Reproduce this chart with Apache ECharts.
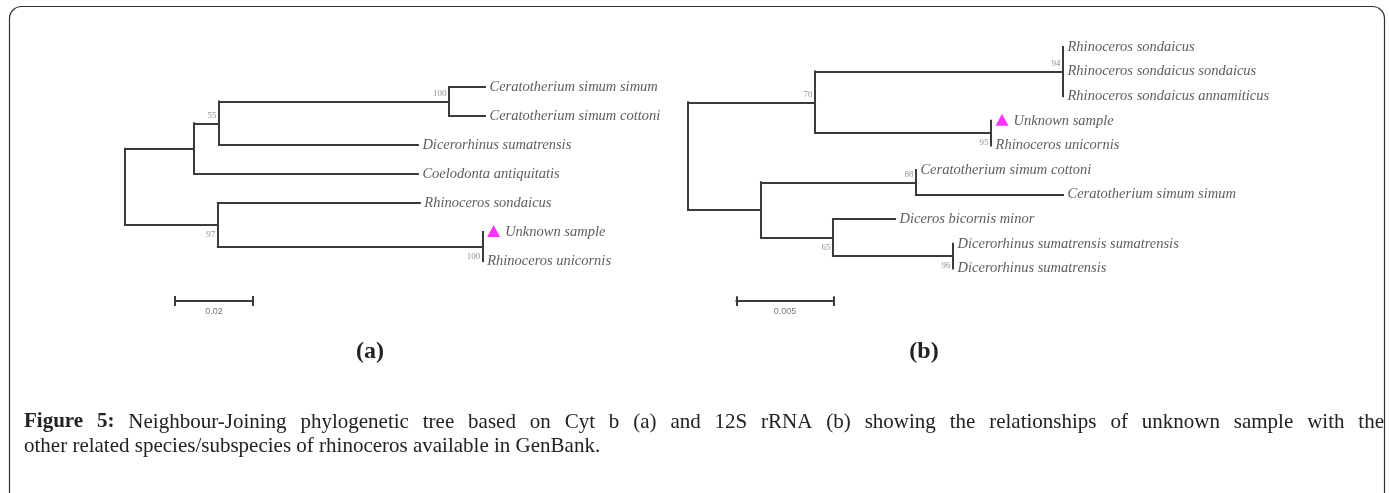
<!DOCTYPE html>
<html>
<head>
<meta charset="utf-8">
<script src="https://cdn.jsdelivr.net/npm/echarts@6/dist/echarts.min.js"></script>
<style>
html, body { margin: 0; padding: 0; background: #fff; }
#chart { width: 1389px; height: 493px; }
</style>
</head>
<body>
<div id="chart"></div>
<script>
// tree (a) Cyt b : node ids, parents, branch lengths, bootstrap, tip names
var aNodes   = ['root', 'n1', 'n55', 'n100', 'CSS', 'CSC', 'DS', 'CA', 'n97', 'RS', 'n100b', 'US', 'RU'];
var aParents = [null, 'root', 'n1', 'n55', 'n100', 'n100', 'n55', 'n1', 'root', 'n97', 'n97', 'n100b', 'n100b'];
var aLengths = [0, 0.0177, 0.0064, 0.0590, 0.0092, 0.0092, 0.0510, 0.0574, 0.0238, 0.0518, 0.0679, 0, 0];
var aSupport = ['', '', '55', '100', '', '', '', '', '97', '', '100', '', ''];
var aNames   = ['', '', '', '', 'Ceratotherium simum simum', 'Ceratotherium simum cottoni',
                'Dicerorhinus sumatrensis', 'Coelodonta antiquitatis', '', 'Rhinoceros sondaicus',
                '', 'Unknown sample', 'Rhinoceros unicornis'];
var aScale = 0.02, aScaleText = '0.02';

// tree (b) 12S rRNA
var bNodes   = ['root', 'n70', 'n94', 'RS', 'RSS', 'RSA', 'n95', 'US', 'RU', 'nX', 'n88', 'CSC', 'CSS',
                'n65', 'DBM', 'n96', 'DSS', 'DS'];
var bParents = [null, 'root', 'n70', 'n94', 'n94', 'n94', 'n70', 'n95', 'n95', 'root', 'nX', 'n88', 'n88',
                'nX', 'n65', 'n65', 'n96', 'n96'];
var bLengths = [0, 0.00655, 0.01278, 0, 0, 0, 0.00907, 0, 0, 0.00376, 0.00799, 0, 0.00758,
                0.00371, 0.00320, 0.00619, 0, 0];
var bSupport = ['', '70', '94', '', '', '', '95', '', '', '', '88', '', '', '65', '', '96', '', ''];
var bNames   = ['', '', '', 'Rhinoceros sondaicus', 'Rhinoceros sondaicus sondaicus',
                'Rhinoceros sondaicus annamiticus', '', 'Unknown sample', 'Rhinoceros unicornis', '', '',
                'Ceratotherium simum cottoni', 'Ceratotherium simum simum', '', 'Diceros bicornis minor', '',
                'Dicerorhinus sumatrensis sumatrensis', 'Dicerorhinus sumatrensis'];
var bScale = 0.005, bScaleText = '0.005';

var captionLine1 = ['Figure', '5:', 'Neighbour-Joining', 'phylogenetic', 'tree', 'based', 'on', 'Cyt', 'b', '(a)',
                    'and', '12S', 'rRNA', '(b)', 'showing', 'the', 'relationships', 'of', 'unknown', 'sample',
                    'with', 'the'];
var captionLine2 = 'other related species/subspecies of rhinoceros available in GenBank.';

var serif = '"Liberation Serif", "DejaVu Serif", serif';
var lineColor = '#3b3b3b';
var marked = 'US';          // tip with the magenta triangle
var belowA = ['n97', 'n100b'];
var belowB = ['n95', 'n65', 'n96'];

var chart = echarts.init(document.getElementById('chart'));

// x = distance from root, y = tip order (inner node sits midway between its outer children)
function layoutTree(nodes, parents, lengths) {
    var idx = {}, kids = {}, x = {}, y = {}, tips = [];
    nodes.forEach(function (id, i) { idx[id] = i; kids[id] = []; });
    nodes.forEach(function (id, i) { if (parents[i]) kids[parents[i]].push(id); });
    function walk(id, px) {
        x[id] = px + lengths[idx[id]];
        var c = kids[id];
        if (!c.length) { y[id] = tips.length; tips.push(id); return; }
        c.forEach(function (k) { walk(k, x[id]); });
        y[id] = (y[c[0]] + y[c[c.length - 1]]) / 2;
    }
    walk(nodes[0], 0);
    return { idx: idx, kids: kids, x: x, y: y, tips: tips };
}

function buildSeries(k, nodes, parents, lengths, support, names, below, scale, scaleText, barX, barY) {
    var t = layoutTree(nodes, parents, lengths);
    var edges = [];
    nodes.forEach(function (id, i) {
        var p = parents[i];
        if (p) edges.push({ coords: [[t.x[p], t.y[id]], [t.x[id], t.y[id]]] });
        var c = t.kids[id];
        if (c.length) edges.push({ coords: [[t.x[id], t.y[c[0]]], [t.x[id], t.y[c[c.length - 1]]]] });
    });
    var cap = k === 0 ? 0.14 : 0.16;
    var bar = [
        { coords: [[barX, barY], [barX + scale, barY]] },
        { coords: [[barX, barY - cap], [barX, barY + cap]] },
        { coords: [[barX + scale, barY - cap], [barX + scale, barY + cap]] }
    ];
    var tips = t.tips.map(function (id) {
        var item = { name: names[t.idx[id]], value: [t.x[id], t.y[id]] };
        if (id === marked) item.label = { offset: [18, 0] };
        return item;
    });
    var boots = [];
    nodes.forEach(function (id, i) {
        if (!support[i]) return;
        var down = below.indexOf(id) >= 0;
        boots.push({ name: support[i], value: [t.x[id], t.y[id]],
                     label: { offset: [0, down ? 10 : -8] } });
    });
    var common = { xAxisIndex: k, yAxisIndex: k, silent: true, animation: false };
    return [
        Object.assign({ type: 'lines', coordinateSystem: 'cartesian2d', polyline: false, data: edges.concat(bar),
            lineStyle: { color: lineColor, width: 2, opacity: 1, cap: 'square' } }, common),
        Object.assign({ type: 'scatter', symbolSize: 1, itemStyle: { color: 'rgba(0,0,0,0)' }, data: tips,
            label: { show: true, position: 'right', distance: 4, formatter: '{b}', fontStyle: 'italic',
                     fontFamily: serif, fontSize: k === 0 ? 14.5 : 14.5, color: '#333' } }, common),
        Object.assign({ type: 'scatter', symbolSize: 1, itemStyle: { color: 'rgba(0,0,0,0)' }, data: boots,
            label: { show: true, position: 'left', distance: 2, formatter: '{b}',
                     fontFamily: serif, fontSize: 9, color: '#777' } }, common),
        Object.assign({ type: 'scatter', symbol: 'triangle', symbolSize: [13, 12], symbolOffset: [11, -1],
            itemStyle: { color: '#ff00ff' }, data: [[t.x[marked], t.y[marked]]] }, common),
        Object.assign({ type: 'scatter', symbolSize: 1, itemStyle: { color: 'rgba(0,0,0,0)' },
            data: [{ name: scaleText, value: [barX + scale / 2, barY] }],
            label: { show: true, position: 'bottom', distance: 5, formatter: '{b}',
                     fontFamily: '"Liberation Sans", Arial, sans-serif', fontSize: 9, color: '#555' } }, common)
    ];
}

var series = buildSeries(0, aNodes, aParents, aLengths, aSupport, aNames, belowA, aScale, aScaleText, 0.0128, 7.38)
    .concat(buildSeries(1, bNodes, bParents, bLengths, bSupport, bNames, belowB, bScale, bScaleText, 0.0025, 10.33));

// caption: first line justified between the frame edges
var capSize = 21;
var ctx = document.createElement('canvas').getContext('2d');
function wordWidth(w, bold) {
    ctx.font = (bold ? 'bold ' : '') + capSize + 'px ' + serif;
    return ctx.measureText(w).width;
}
var capLeft = 24, capRight = 1384, capY1 = 422, capY2 = 446;
var widths = captionLine1.map(function (w, i) { return wordWidth(w, i < 2); });
var total = widths.reduce(function (s, w) { return s + w; }, 0);
var gap = (capRight - capLeft - total) / (captionLine1.length - 1);
var graphics = [{
    type: 'rect', shape: { x: 9.5, y: 6.5, width: 1375, height: 600, r: 12 },
    style: { fill: 'none', stroke: '#333', lineWidth: 1.2 }, silent: true
}];
var cx = capLeft;
captionLine1.forEach(function (w, i) {
    graphics.push({ type: 'text', x: cx, y: capY1, silent: true,
        style: { text: w, fontSize: capSize, fontFamily: serif, fontWeight: i < 2 ? 'bold' : 'normal',
                 fill: '#222', textVerticalAlign: 'middle', verticalAlign: 'middle' } });
    cx += widths[i] + gap;
});
graphics.push({ type: 'text', x: capLeft, y: capY2, silent: true,
    style: { text: captionLine2, fontSize: capSize, fontFamily: serif, fill: '#222',
             textVerticalAlign: 'middle', verticalAlign: 'middle' } });
[['(a)', 370], ['(b)', 924]].forEach(function (p) {
    graphics.push({ type: 'text', x: p[1], y: 352, silent: true,
        style: { text: p[0], fontSize: 24, fontWeight: 'bold', fontFamily: serif, fill: '#222',
                 textAlign: 'center', align: 'center', textVerticalAlign: 'middle', verticalAlign: 'middle' } });
});

var hidden = { show: false, splitLine: { show: false } };
chart.setOption({
    animation: false,
    backgroundColor: '#fff',
    grid: [
        { left: 125, top: 87, width: 390, height: 232, outerBoundsMode: 'none' },
        { left: 688, top: 47, width: 485, height: 270.6, outerBoundsMode: 'none' }
    ],
    xAxis: [
        Object.assign({ gridIndex: 0, type: 'value', min: 0, max: 0.1 }, hidden),
        Object.assign({ gridIndex: 1, type: 'value', min: 0, max: 0.025 }, hidden)
    ],
    yAxis: [
        Object.assign({ gridIndex: 0, type: 'value', min: 0, max: 8, inverse: true }, hidden),
        Object.assign({ gridIndex: 1, type: 'value', min: 0, max: 11, inverse: true }, hidden)
    ],
    series: series,
    graphic: graphics
});
</script>
</body>
</html>
